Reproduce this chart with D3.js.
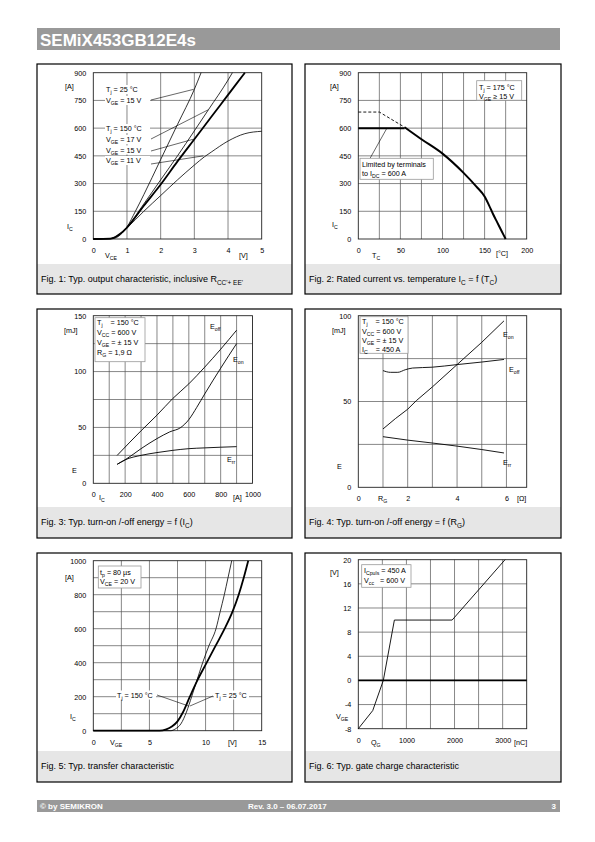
<!DOCTYPE html>
<html><head><meta charset="utf-8">
<script src="https://cdn.jsdelivr.net/npm/d3@7"></script>
<style>body{margin:0;background:#fff}svg{display:block}text{font-family:"Liberation Sans",Arial,Helvetica,sans-serif}</style>
</head><body><svg id="page" width="595" height="842"></svg>
<script>
// ---------------- DATA ----------------
// Fig 1: Ic [A] vs Vce [V]
const fig1_x_ticks = [0,1,2,3,4,5];
const fig1_y_ticks = [0,150,300,450,600,750,900];
const fig1_tj25_vge15  = [[0,0],[0.5,1],[0.65,5],[0.8,22],[1.0,65],[1.25,150],[1.5,240],[2,430],[2.5,620],[3,810],[3.2,900]];
const fig1_tj150_vge17 = [[0,0],[0.5,2],[0.6,6],[0.8,28],[1,65],[1.5,190],[2,320],[2.5,450],[3,585],[3.42,700],[4,860],[4.13,900]];
const fig1_tj150_vge15 = [[0,0],[0.5,2],[0.6,6],[0.8,28],[1,62],[1.5,180],[2,295],[2.5,420],[3,540],[3.5,660],[4,780],[4.5,900]];
const fig1_tj150_vge11 = [[0,0],[0.5,2],[0.6,6],[0.8,28],[1,60],[1.5,150],[2,235],[2.5,320],[3,400],[3.3,445],[3.5,470],[4,530],[4.5,570],[5,583]];

// Fig 2: Ic [A] vs Tc [°C]
const fig2_x_ticks = [0,50,100,150,200];
const fig2_y_ticks = [0,150,300,450,600,750,900];
const fig2_terminal_limit = [[0,600],[55,600]];
const fig2_chip_limit_dashed = [[0,687],[25,687],[55,605]];
const fig2_rated_current = [[55,605],[75,540],[100,462],[125,358],[140,285],[150,230],[155,185],[160,135],[165,90],[170,45],[175,0]];

// Fig 3: E [mJ] vs Ic [A]
const fig3_x_ticks = [0,200,400,600,800,1000];
const fig3_y_ticks = [0,50,100,150];
const fig3_Eoff = [[150,25],[300,47],[400,61],[500,76],[600,89],[700,104],[800,120],[900,137]];
const fig3_Eon  = [[150,17],[200,21],[300,31],[400,40],[480,46],[550,50],[600,57],[650,68],[700,80],[800,103],[900,125]];
const fig3_Err  = [[150,17],[200,21],[300,25],[400,27.5],[500,29.5],[600,31],[700,31.7],[800,32.3],[900,32.8]];

// Fig 4: E [mJ] vs Rg [Ohm]
const fig4_x_ticks = [0,2,4,6];
const fig4_y_ticks = [0,50,100];
const fig4_Eon  = [[1,34],[1.5,40],[2,45.5],[2.35,50.5],[3,58.5],[4,71.5],[5,84.5],[5.9,97]];
const fig4_Eoff = [[1,68],[1.3,67],[1.6,67],[1.9,68.5],[2.2,69.5],[3,70],[4,71.5],[5,73],[5.9,74.5]];
const fig4_Err  = [[1,29.5],[2,27.5],[3,25.8],[4,24],[5,22],[5.9,20]];

// Fig 5: Ic [A] vs Vge [V]
const fig5_x_ticks = [0,5,10,15];
const fig5_y_ticks = [0,200,400,600,800,1000];
const fig5_tj150 = [[0,0],[5.9,0],[6.5,8],[7,25],[7.5,55],[8,110],[8.6,200],[9.3,300],[10.1,400],[10.9,500],[11.7,600],[12.4,700],[12.95,800],[13.4,900],[13.8,1000]];
const fig5_tj25  = [[0,0],[6.9,0],[7.3,10],[7.8,40],[8.3,110],[8.76,200],[9.2,290],[9.74,400],[10.3,500],[10.93,600],[11.3,700],[11.67,800],[12,900],[12.33,1000]];

// Fig 6: Vge [V] vs Qg [nC]
const fig6_x_ticks = [0,1000,2000,3000];
const fig6_y_ticks = [-8,-4,0,4,8,12,16,20];
const fig6_gate_charge = [[0,-8],[300,-5],[520,0],[750,10],[1950,10],[3050,20]];

// ---------------- DRAWING ----------------
const svg = d3.select('#page');
const F = '"Liberation Sans", Arial, Helvetica, sans-serif';

function rich(t, str, size){
  const re = /_\{([^}]*)\}/g; let last=0, m; const parts=[];
  while((m=re.exec(str))){ if(m.index>last) parts.push({t:str.slice(last,m.index),sub:false}); parts.push({t:m[1],sub:true}); last=re.lastIndex; }
  if(last<str.length) parts.push({t:str.slice(last),sub:false});
  let inSub=false;
  parts.forEach(p=>{
    const ts=t.append('tspan').text(p.t);
    if(p.sub){ ts.attr('font-size',size*0.72); if(!inSub) ts.attr('dy',size*0.28); inSub=true; }
    else { ts.attr('font-size',size); if(inSub){ ts.attr('dy',-size*0.28); inSub=false; } }
  });
}
function addText(g,x,y,str,size,o={}){
  const t=g.append('text').attr('x',x).attr('y',y).attr('font-size',size).attr('fill',o.fill||'#000')
    .attr('text-anchor',o.anchor||'start').attr('font-family',F).attr('xml:space','preserve').style('white-space','pre');
  if(o.bold) t.attr('font-weight','bold');
  rich(t,str,size); return t;
}

// header & footer
svg.append('rect').attr('x',37).attr('y',28).attr('width',523).attr('height',22).attr('fill','#999');
addText(svg,40,46,'SEMiX453GB12E4s',17,{fill:'#fff',bold:true});
svg.append('rect').attr('x',37).attr('y',800).attr('width',523).attr('height',12).attr('fill','#999');
addText(svg,40,809,'© by SEMIKRON',8,{fill:'#fff',bold:true});
addText(svg,248,809,'Rev. 3.0 – 06.07.2017',8,{fill:'#fff',bold:true});
addText(svg,556,809,'3',8,{fill:'#fff',bold:true,anchor:'end'});

function drawPanel(c){
  const g=svg.append('g');
  const [bx,by,bw,bh]=c.box;
  g.append('rect').attr('x',bx).attr('y',c.band).attr('width',bw).attr('height',by+bh-c.band).attr('fill','#e6e6e6');
  g.append('rect').attr('x',bx).attr('y',by).attr('width',bw).attr('height',bh).attr('fill','none').attr('stroke','#000').attr('stroke-width',1.2);
  addText(g,bx+4,c.band+18,c.caption,9);
  const x=d3.scaleLinear().domain(c.xd).range(c.xr);
  const y=d3.scaleLinear().domain(c.yd).range(c.yr);
  g.selectAll(null).data(c.xgrid).join('line').attr('x1',d=>x(d)).attr('x2',d=>x(d)).attr('y1',c.yr[0]).attr('y2',c.yr[1]).attr('stroke','#555').attr('stroke-width',0.7);
  g.selectAll(null).data(c.ygrid).join('line').attr('y1',d=>y(d)).attr('y2',d=>y(d)).attr('x1',c.xr[0]).attr('x2',c.xr[1]).attr('stroke','#555').attr('stroke-width',0.7);
  g.append('rect').attr('x',c.xr[0]).attr('y',c.yr[1]).attr('width',c.xr[1]-c.xr[0]).attr('height',c.yr[0]-c.yr[1]).attr('fill','none').attr('stroke','#222').attr('stroke-width',0.9);
  const ya=g.append('g').attr('transform',`translate(${c.xr[0]},0)`).call(d3.axisLeft(y).tickValues(c.yticks).tickSize(0).tickPadding(7).tickFormat(d=>String(d)));
  ya.select('.domain').remove();
  ya.selectAll('text').attr('font-size',7.2).attr('font-family',F).attr('fill','#000');
  const xa=g.append('g').attr('transform',`translate(0,${c.yr[0]})`).call(d3.axisBottom(x).tickValues(c.xticks).tickSize(0).tickPadding(9).tickFormat(d=>String(d)));
  xa.select('.domain').remove();
  xa.selectAll('text').attr('font-size',7.2).attr('font-family',F).attr('fill','#000');
  return {g,x,y};
}
function curve(p,data,w,o={}){
  const line=d3.line().x(d=>p.x(d[0])).y(d=>p.y(d[1])).curve(o.linear?d3.curveLinear:d3.curveMonotoneX);
  p.g.append('path').datum(data).attr('d',line).attr('fill','none').attr('stroke','#000').attr('stroke-width',w)
    .attr('stroke-dasharray',o.dash||null).attr('stroke-linejoin','round');
}
function leader(p,a,b){
  p.g.append('line').attr('x1',p.x(a[0])).attr('y1',p.y(a[1])).attr('x2',p.x(b[0])).attr('y2',p.y(b[1])).attr('stroke','#000').attr('stroke-width',0.6);
}
function box(p,x0,y0,w,h){
  p.g.append('rect').attr('x',x0).attr('y',y0).attr('width',w).attr('height',h).attr('fill','#fff').attr('stroke','#999').attr('stroke-width',0.8);
}
function label(p,x0,y0,s,w){
  p.g.append('rect').attr('x',x0-1).attr('y',y0-7).attr('width',w).attr('height',9).attr('fill','#fff');
  addText(p.g,x0,y0,s,7.2);
}
const range=(a,b,s)=>d3.range(a,b+s/2,s);

// ---- Fig 1
{
  const p=drawPanel({box:[37,64,255,230],band:264,caption:"Fig. 1: Typ. output characteristic, inclusive R_{CC'+ EE'}",
    xd:[0,5],yd:[0,900],xr:[93.3,261.7],yr:[239,72.7],xgrid:range(1,4,1),ygrid:range(150,750,150),xticks:fig1_x_ticks,yticks:fig1_y_ticks});
  curve(p,fig1_tj25_vge15,0.8);
  curve(p,fig1_tj150_vge17,0.8);
  curve(p,fig1_tj150_vge11,0.8);
  curve(p,fig1_tj150_vge15,1.8);
  [['T_{j} = 25 °C',92],['V_{GE} = 15 V',103],['T_{j} = 150 °C',131],['V_{GE} = 17 V',142],['V_{GE} = 15 V',152.5],['V_{GE} = 11 V',163]]
    .forEach(([s,yy])=>label(p,106,yy,s,45));
  leader(p,[p.x.invert(151),p.y.invert(100)],[2.98,810]);
  leader(p,[p.x.invert(151),p.y.invert(139)],[3.42,700]);
  leader(p,[p.x.invert(151),p.y.invert(151)],[2.97,540]);
  leader(p,[p.x.invert(151),p.y.invert(164)],[3.27,450]);
  addText(p.g,65,89,'[A]',7.2);
  addText(p.g,67,229,'I_{C}',7.2);
  addText(p.g,105,258,'V_{CE}',7.2);
  addText(p.g,239,258,'[V]',7.2);
}
// ---- Fig 2
{
  const p=drawPanel({box:[305,64,256,230],band:264,caption:"Fig. 2: Rated current vs. temperature I_{C} = f (T_{C})",
    xd:[0,200],yd:[0,900],xr:[358.3,526.7],yr:[239,72.7],xgrid:range(25,175,25),ygrid:range(150,750,150),xticks:fig2_x_ticks,yticks:fig2_y_ticks});
  curve(p,fig2_chip_limit_dashed,0.9,{linear:true,dash:'3,2'});
  curve(p,fig2_terminal_limit,2,{linear:true});
  curve(p,fig2_rated_current,2);
  box(p,476.7,80.7,45,19.5);
  addText(p.g,479,90,'T_{j} = 175 °C',7.2);
  addText(p.g,479,98.5,'V_{GE} ≥ 15 V',7.2);
  leader(p,[14,437],[34,600]);
  box(p,360,158.3,73.3,21);
  addText(p.g,362,167,'Limited by terminals',7.2);
  addText(p.g,362,176,'to I_{DC} = 600 A',7.2);
  addText(p.g,330,89,'[A]',7.2);
  addText(p.g,332,227,'I_{C}',7.2);
  addText(p.g,372,258,'T_{C}',7.2);
  addText(p.g,496,256,'[°C]',7.2);
}
// ---- Fig 3
{
  const p=drawPanel({box:[37,309,255,229],band:507,caption:"Fig. 3: Typ. turn-on /-off energy = f (I_{C})",
    xd:[0,1000],yd:[0,150],xr:[93.3,252.5],yr:[483.3,315.7],xgrid:range(100,900,100),ygrid:range(25,125,25),xticks:fig3_x_ticks,yticks:fig3_y_ticks});
  curve(p,fig3_Eoff,0.9); curve(p,fig3_Eon,0.9); curve(p,fig3_Err,0.9);
  box(p,95,317.7,50,44);
  addText(p.g,97,325,'T_{j}    = 150 °C',7.2);
  addText(p.g,97,334.5,'V_{CC} = 600 V',7.2);
  addText(p.g,97,344.5,'V_{GE} = ± 15 V',7.2);
  addText(p.g,97,354.5,'R_{G} = 1,9 Ω',7.2);
  addText(p.g,210,329,'E_{off}',7.2);
  addText(p.g,233,362,'E_{on}',7.2);
  addText(p.g,227,462,'E_{rr}',7.2);
  addText(p.g,64,333,'[mJ]',7.2);
  addText(p.g,72,473,'E',7.2);
  addText(p.g,99,500,'I_{C}',7.2);
  addText(p.g,233,500,'[A]',7.2);
}
// ---- Fig 4
{
  const p=drawPanel({box:[305,309,256,229],band:507,caption:"Fig. 4: Typ. turn-on /-off energy = f (R_{G})",
    xd:[0,6.82],yd:[0,100],xr:[358.3,526.7],yr:[487.3,315.7],xgrid:range(1,6,1),ygrid:[25,50,75],xticks:fig4_x_ticks,yticks:fig4_y_ticks});
  curve(p,fig4_Eon,0.9,{linear:true}); curve(p,fig4_Eoff,0.9); curve(p,fig4_Err,0.9);
  box(p,360,316.7,48,36.6);
  addText(p.g,362,324,'T_{j}    = 150 °C',7.2);
  addText(p.g,362,333.5,'V_{CC} = 600 V',7.2);
  addText(p.g,362,342.5,'V_{GE} = ± 15 V',7.2);
  addText(p.g,362,351.5,'I_{C}    = 450 A',7.2);
  addText(p.g,503,337,'E_{on}',7.2);
  addText(p.g,509,372,'E_{off}',7.2);
  addText(p.g,503,465,'E_{rr}',7.2);
  addText(p.g,332,333,'[mJ]',7.2);
  addText(p.g,337,469,'E',7.2);
  addText(p.g,378,501,'R_{G}',7.2);
  addText(p.g,517,501,'[Ω]',7.2);
}
// ---- Fig 5
{
  const p=drawPanel({box:[37,553,255,229],band:751,caption:"Fig. 5: Typ. transfer characteristic",
    xd:[0,15],yd:[0,1000],xr:[93.3,261.7],yr:[730.7,560.7],xgrid:range(2.5,12.5,2.5),ygrid:range(100,900,100),xticks:fig5_x_ticks,yticks:fig5_y_ticks});
  curve(p,fig5_tj25,0.8);
  curve(p,fig5_tj150,1.8);
  box(p,98.3,566,42.7,22);
  addText(p.g,100,574.5,'t_{p} = 80 µs',7.2);
  addText(p.g,100,584,'V_{CE} = 20 V',7.2);
  label(p,117,697.5,'T_{j} = 150 °C',40);
  label(p,215,697.5,'T_{j} = 25 °C',35);
  leader(p,[p.x.invert(157),p.y.invert(695)],[8.5,145]);
  leader(p,[p.x.invert(213),p.y.invert(696)],[8.6,145]);
  addText(p.g,65,580,'[A]',7.2);
  addText(p.g,70,719,'I_{C}',7.2);
  addText(p.g,110,745,'V_{GE}',7.2);
  addText(p.g,228,745,'[V]',7.2);
}
// ---- Fig 6
{
  const p=drawPanel({box:[305,553,256,229],band:751,caption:"Fig. 6: Typ. gate charge characteristic",
    xd:[0,3500],yd:[-8,20],xr:[358.3,526.7],yr:[728.7,559.7],xgrid:range(500,3000,500),ygrid:range(-4,16,4),xticks:fig6_x_ticks,yticks:fig6_y_ticks});
  p.g.append('line').attr('x1',p.x(0)).attr('x2',p.x(3500)).attr('y1',p.y(0)).attr('y2',p.y(0)).attr('stroke','#000').attr('stroke-width',1.8);
  curve(p,fig6_gate_charge,0.9,{linear:true});
  box(p,361.7,564.7,49.3,22.6);
  addText(p.g,364,573,'I_{Cpuls} = 450 A',7.2);
  addText(p.g,364,583,'V_{cc}   = 600 V',7.2);
  addText(p.g,330,575,'[V]',7.2);
  addText(p.g,336,719,'V_{GE}',7.2);
  addText(p.g,371,745,'Q_{G}',7.2);
  addText(p.g,514,745,'[nC]',7.2);
}
</script></body></html>
